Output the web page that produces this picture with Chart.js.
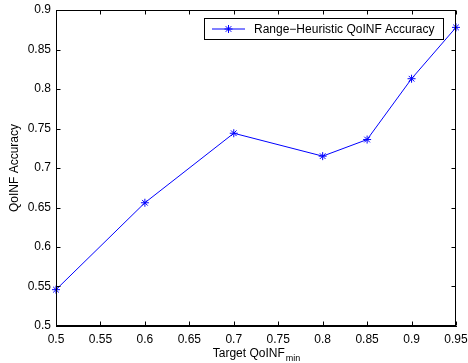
<!DOCTYPE html>
<html><head><meta charset="utf-8">
<script src="https://cdn.jsdelivr.net/npm/chart.js@4/dist/chart.umd.min.js"></script>
<style>html,body{margin:0;padding:0;background:#fff}</style>
</head><body>
<canvas id="c" width="468" height="363"></canvas>
<script>
const targetQoINF = [0.5, 0.6, 0.7, 0.8, 0.85, 0.9, 0.95];
const accuracy = [0.546, 0.656, 0.744, 0.715, 0.736, 0.813, 0.878];
const xTicks = [0.5, 0.55, 0.6, 0.65, 0.7, 0.75, 0.8, 0.85, 0.9, 0.95];
const yTicks = [0.5, 0.55, 0.6, 0.65, 0.7, 0.75, 0.8, 0.85, 0.9];
const seriesLabel = 'Range\u2212Heuristic QoINF Accuracy';
const xTitle = 'Target QoINF';
const xTitleSub = 'min';
const yTitle = 'QoINF Accuracy';

const FONT = 'Liberation Sans, Arial, Helvetica, sans-serif';
const fmt = v => String(Number(v.toFixed(2)));

const framePlugin = {
  id: 'frame',
  afterDraw(chart) {
    const ctx = chart.ctx, a = chart.chartArea;
    const xs = chart.scales.x, ys = chart.scales.y;
    ctx.save();
    ctx.strokeStyle = '#000';
    ctx.lineWidth = 1;
    const L = Math.round(a.left) + 0.5, R = Math.round(a.right) - 0.5;
    const T = Math.round(a.top) + 0.5, B = Math.round(a.bottom) - 0.5;
    ctx.strokeRect(L, T, R - L, B - T);
    const tl = 4;
    ctx.beginPath();
    xTicks.forEach(v => {
      const px = Math.round(xs.getPixelForValue(v)) + 0.5;
      ctx.moveTo(px, B); ctx.lineTo(px, B - tl);
      ctx.moveTo(px, T); ctx.lineTo(px, T + tl);
    });
    yTicks.forEach(v => {
      const py = Math.round(ys.getPixelForValue(v)) + 0.5;
      ctx.moveTo(L, py); ctx.lineTo(L + tl, py);
      ctx.moveTo(R, py); ctx.lineTo(R - tl, py);
    });
    ctx.stroke();

    // legend
    const lx = 204.5, ly = 18.5, lw = 239, lh = 21;
    ctx.fillStyle = '#fff';
    ctx.fillRect(lx, ly, lw, lh);
    ctx.strokeStyle = '#000';
    ctx.strokeRect(lx, ly, lw, lh);
    const my = ly + lh / 2;
    ctx.strokeStyle = '#0000ff';
    ctx.beginPath();
    ctx.moveTo(212, my); ctx.lineTo(245, my);
    ctx.stroke();
    Chart.helpers.drawPoint(ctx, {pointStyle: 'star', radius: 4, rotation: 0, borderWidth: 1}, 228.5, my);
    ctx.fillStyle = '#000';
    ctx.font = '12px ' + FONT;
    ctx.textBaseline = 'middle';
    ctx.textAlign = 'left';
    ctx.fillText(seriesLabel, 254, my + 1);

    // x title with subscript
    ctx.font = '12px ' + FONT;
    const w1 = ctx.measureText(xTitle).width;
    ctx.font = '9px ' + FONT;
    const w2 = ctx.measureText(xTitleSub).width;
    const cx = (a.left + a.right) / 2;
    const sx = cx - (w1 + w2) / 2;
    ctx.textBaseline = 'alphabetic';
    ctx.font = '12px ' + FONT;
    ctx.fillText(xTitle, sx, 357);
    ctx.font = '9px ' + FONT;
    ctx.fillText(xTitleSub, sx + w1 + 1, 361);

    // y title
    ctx.save();
    ctx.translate(15, (a.top + a.bottom) / 2);
    ctx.rotate(-Math.PI / 2);
    ctx.font = '12px ' + FONT;
    ctx.textAlign = 'center';
    ctx.textBaseline = 'middle';
    ctx.fillText(yTitle, 0, 0);
    ctx.restore();
    ctx.restore();
  }
};

new Chart(document.getElementById('c'), {
  type: 'line',
  data: {
    datasets: [{
      label: seriesLabel,
      data: targetQoINF.map((x, i) => ({x: x, y: accuracy[i]})),
      borderColor: '#0000ff',
      backgroundColor: '#0000ff',
      borderWidth: 1,
      pointStyle: 'star',
      pointRadius: 4,
      pointBorderWidth: 1,
      pointBorderColor: '#0000ff',
      tension: 0,
      fill: false,
      clip: false
    }]
  },
  options: {
    responsive: false,
    devicePixelRatio: 1,
    animation: false,
    layout: {padding: {top: 10, right: 12, left: 0, bottom: 0}},
    plugins: {legend: {display: false}, tooltip: {enabled: false}},
    scales: {
      x: {
        type: 'linear', min: 0.5, max: 0.95,
        afterBuildTicks: s => { s.ticks = xTicks.map(v => ({value: v})); },
        afterFit: s => { s.height = 37; s.paddingLeft = 0; s.paddingRight = 0; },
        grid: {display: false, drawTicks: false},
        border: {display: true, color: '#000', width: 1},
        ticks: {color: '#000', font: {family: FONT, size: 12}, padding: 6, maxRotation: 0, autoSkip: false, callback: v => fmt(v)}
      },
      y: {
        type: 'linear', min: 0.5, max: 0.9,
        afterBuildTicks: s => { s.ticks = yTicks.map(v => ({value: v})); },
        afterFit: s => { s.width = 56; s.paddingTop = 0; s.paddingBottom = 0; },
        grid: {display: false, drawTicks: false},
        border: {display: true, color: '#000', width: 1},
        ticks: {color: '#000', font: {family: FONT, size: 12}, padding: 5, autoSkip: false, callback: v => fmt(v)}
      }
    }
  },
  plugins: [framePlugin]
});
</script>
</body></html>
